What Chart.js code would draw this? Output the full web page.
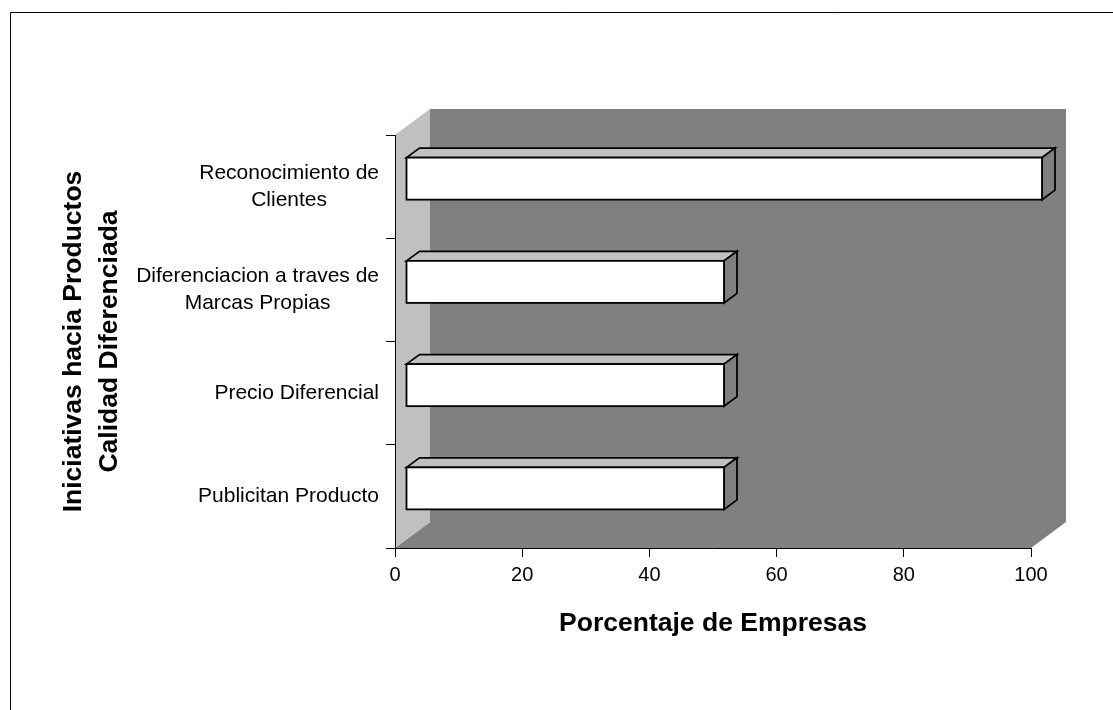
<!DOCTYPE html>
<html>
<head>
<meta charset="utf-8">
<style>
  body { margin: 0; background: #fff; }
  canvas { display: block; }
</style>
<script src="https://cdn.jsdelivr.net/npm/chart.js"></script>
</head>
<body>
<canvas id="chart_zone" width="1113" height="710"></canvas>
<script>
// Chart data
const categories = [
    ['Reconocimiento de', 'Clientes'],
    ['Diferenciacion a traves de', 'Marcas Propias'],
    ['Precio Diferencial'],
    ['Publicitan Producto']
];
const empresasPct = [100, 50, 50, 50];
const xTicks = [0, 20, 40, 60, 80, 100];

const FONT = "'Liberation Sans', Arial, sans-serif";
const WALL_DX = 35, WALL_DY = -26;   // depth of the 3d box
const BAR_OX = 11, BAR_OY = -8;      // bar front face sits a bit inside the box
const BAR_DX = 13, BAR_DY = -9.5;    // bar depth

// walls, floor and frame behind everything
const wallsPlugin = {
    id: 'walls',
    beforeDraw(chart) {
        const ctx = chart.ctx;
        const a = chart.chartArea;
        ctx.save();
        ctx.fillStyle = '#fff';
        ctx.fillRect(0, 0, chart.width, chart.height);

        // back wall
        ctx.fillStyle = '#808080';
        ctx.fillRect(a.left + WALL_DX, a.top + WALL_DY, a.right - a.left, a.bottom - a.top);
        // floor
        ctx.beginPath();
        ctx.moveTo(a.left, a.bottom);
        ctx.lineTo(a.left + WALL_DX, a.bottom + WALL_DY);
        ctx.lineTo(a.right + WALL_DX, a.bottom + WALL_DY);
        ctx.lineTo(a.right, a.bottom);
        ctx.closePath();
        ctx.fill();
        // side wall
        ctx.fillStyle = '#c0c0c0';
        ctx.beginPath();
        ctx.moveTo(a.left, a.top);
        ctx.lineTo(a.left + WALL_DX, a.top + WALL_DY);
        ctx.lineTo(a.left + WALL_DX, a.bottom + WALL_DY);
        ctx.lineTo(a.left, a.bottom);
        ctx.closePath();
        ctx.fill();

        // outer frame (only top/left visible)
        ctx.strokeStyle = '#000';
        ctx.lineWidth = 1;
        ctx.beginPath();
        ctx.moveTo(10.5, chart.height);
        ctx.lineTo(10.5, 12.5);
        ctx.lineTo(chart.width, 12.5);
        ctx.stroke();
        ctx.restore();
    },
    afterDatasetsDraw(chart) {
        const ctx = chart.ctx;
        const meta = chart.getDatasetMeta(0);
        ctx.save();
        ctx.strokeStyle = '#000';
        ctx.lineWidth = 1.8;
        ctx.lineJoin = 'miter';
        meta.data.forEach(bar => {
            const p = bar.getProps(['x', 'y', 'base', 'height'], true);
            const l = p.base + BAR_OX, r = p.x + BAR_OX;
            const t = p.y - p.height / 2 + BAR_OY, b = p.y + p.height / 2 + BAR_OY;

            // top face
            ctx.fillStyle = '#c0c0c0';
            ctx.beginPath();
            ctx.moveTo(l, t);
            ctx.lineTo(l + BAR_DX, t + BAR_DY);
            ctx.lineTo(r + BAR_DX, t + BAR_DY);
            ctx.lineTo(r, t);
            ctx.closePath();
            ctx.fill();
            ctx.stroke();
            // end face
            ctx.fillStyle = '#808080';
            ctx.beginPath();
            ctx.moveTo(r, t);
            ctx.lineTo(r + BAR_DX, t + BAR_DY);
            ctx.lineTo(r + BAR_DX, b + BAR_DY);
            ctx.lineTo(r, b);
            ctx.closePath();
            ctx.fill();
            ctx.stroke();
            // front face
            ctx.fillStyle = '#fff';
            ctx.fillRect(l, t, r - l, b - t);
            ctx.strokeRect(l, t, r - l, b - t);
        });

        // category labels, lines centred inside their block
        const yScale = chart.scales.y;
        ctx.fillStyle = '#000';
        ctx.font = "21px " + FONT;
        ctx.textBaseline = 'middle';
        ctx.textAlign = 'center';
        const lh = 26.5;
        categories.forEach((lines, i) => {
            const cy = yScale.getPixelForValue(i);
            const w = Math.max(...lines.map(s => ctx.measureText(s).width));
            const cx = yScale.right - 16 - w / 2;
            lines.forEach((s, j) => {
                ctx.fillText(s, cx, cy + (j - (lines.length - 1) / 2) * lh);
            });
        });
        ctx.restore();
    }
};

new Chart(document.getElementById('chart_zone'), {
    type: 'bar',
    data: {
        labels: categories,
        datasets: [{
            label: 'Porcentaje de Empresas',
            data: empresasPct,
            backgroundColor: 'rgba(0,0,0,0)',
            borderWidth: 0,
            categoryPercentage: 1,
            barPercentage: 0.407
        }]
    },
    options: {
        indexAxis: 'y',
        responsive: false,
        animation: false,
        devicePixelRatio: 1,
        layout: { padding: { left: 0, top: 135, right: 82, bottom: 0 } },
        plugins: {
            legend: { display: false },
            tooltip: { enabled: false }
        },
        scales: {
            x: {
                min: 0,
                max: 100,
                afterBuildTicks: scale => { scale.ticks = xTicks.map(v => ({ value: v })); },
                afterFit: scale => { scale.height = 162; },
                grid: { drawOnChartArea: false, drawTicks: true, tickLength: 9, color: '#000' },
                border: { display: true, color: '#000', width: 1 },
                ticks: { color: '#000', padding: 6, font: { family: FONT, size: 20 } },
                title: {
                    display: true,
                    text: 'Porcentaje de Empresas',
                    color: '#000',
                    font: { family: FONT, size: 26.5, weight: 'bold', lineHeight: 1.2 },
                    padding: { top: 0, bottom: 70 }
                }
            },
            y: {
                afterFit: scale => { scale.width = 395; },
                grid: { drawOnChartArea: false, drawTicks: true, tickLength: 9, color: '#000', offset: true },
                border: { display: true, color: '#000', width: 1 },
                ticks: { display: false },
                title: {
                    display: true,
                    text: ['Iniciativas hacia Productos', 'Calidad Diferenciada'],
                    color: '#000',
                    font: { family: FONT, size: 26.5, weight: 'bold', lineHeight: 1.36 },
                    padding: { top: 56, bottom: 0 }
                }
            }
        }
    },
    plugins: [wallsPlugin]
});
</script>
</body>
</html>
